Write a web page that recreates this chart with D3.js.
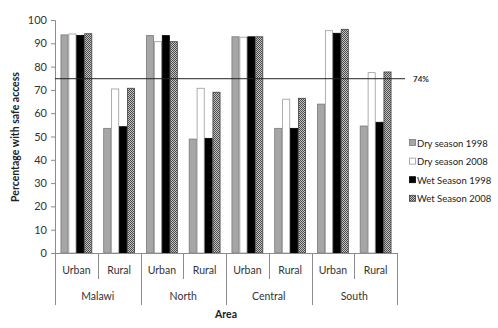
<!DOCTYPE html>
<html><head><meta charset="utf-8">
<script src="https://cdn.jsdelivr.net/npm/d3@7"></script>
<style>body{margin:0;background:#fff}svg{display:block;font-family:Lato,"Open Sans",sans-serif}</style>
</head><body><svg id="c" width="498" height="328"></svg>
<script>
const groups = ["Malawi","North","Central","South"];
const areas = ["Urban","Rural"];
const seriesNames = ["Dry season 1998","Dry season 2008","Wet Season 1998","Wet Season 2008"];
const dry1998 = [93.6, 53.5, 93.3, 48.9, 92.8, 53.5, 63.9, 54.5];
const dry2008 = [94.0, 70.4, 90.7, 70.7, 92.6, 66.0, 95.4, 77.4];
const wet1998 = [93.4, 54.2, 93.3, 49.2, 92.8, 53.5, 94.3, 56.1];
const wet2008 = [94.1, 70.7, 90.7, 69.0, 92.8, 66.4, 96.0, 77.7];
const yTicks = [0,10,20,30,40,50,60,70,80,90,100];
const targetValue = 74.8;
const targetLabel = "74%";

const svg = d3.select("#c");
const defs = svg.append("defs");
const pat = defs.append("pattern").attr("id","chk").attr("width",2).attr("height",2).attr("patternUnits","userSpaceOnUse");
pat.append("rect").attr("width",2).attr("height",2).attr("fill","#c4c4c4");
pat.append("rect").attr("width",1).attr("height",1).attr("fill","#4a4a4a");
pat.append("rect").attr("x",1).attr("y",1).attr("width",1).attr("height",1).attr("fill","#4a4a4a");

const fills = ["#a6a6a6","#ffffff","#000000","url(#chk)"];
const strokes = ["#7a7a7a","#9a9a9a","#000000","#404040"];
const series = [dry1998, dry2008, wet1998, wet2008];

const cats = [];
groups.forEach(g => areas.forEach(a => cats.push(g + "|" + a)));

const L = 55, R = 397, T = 20, B = 253;
const x = d3.scaleBand().domain(cats).range([L, R]).paddingInner(0).paddingOuter(0);
const x1 = d3.scaleBand().domain(d3.range(4)).range([0, x.bandwidth()]).paddingOuter(0.7).paddingInner(0);
const y = d3.scaleLinear().domain([0,100]).range([B, T]);

// bars
series.forEach((vals, si) => {
  svg.append("g").selectAll("rect").data(vals).join("rect")
    .attr("x", (d,i) => x(cats[i]) + x1(si) + 0.4)
    .attr("y", d => y(d))
    .attr("width", x1.bandwidth() - 0.8)
    .attr("height", d => y(0) - y(d))
    .attr("fill", fills[si])
    .attr("stroke", strokes[si])
    .attr("stroke-width", 0.8);
});

// y axis
const yAxis = d3.axisLeft(y).tickValues(yTicks).tickSize(4).tickPadding(4);
const ya = svg.append("g").attr("transform", `translate(${L},0)`).call(yAxis);
ya.select(".domain").attr("stroke","#8c8c8c");
ya.selectAll(".tick line").attr("stroke","#8c8c8c");
ya.selectAll(".tick text").attr("fill","#333").attr("font-size","11px").attr("font-family","Lato,sans-serif");

// x axis baseline
svg.append("line").attr("x1",L).attr("x2",R).attr("y1",B+0.5).attr("y2",B+0.5).attr("stroke","#8c8c8c");

// category separators
const bounds = d3.range(cats.length + 1).map(i => i < cats.length ? x(cats[i]) : R);
bounds.forEach((bx, i) => {
  const long = (i % 2 === 0);
  svg.append("line").attr("x1",Math.round(bx)+0.5).attr("x2",Math.round(bx)+0.5)
    .attr("y1",B).attr("y2", long ? 305 : 279).attr("stroke","#8c8c8c");
});

// area labels
svg.append("g").selectAll("text").data(cats).join("text")
  .attr("x", d => x(d) + x.bandwidth()/2)
  .attr("y", 274)
  .attr("text-anchor","middle")
  .attr("font-size","10.5px").attr("fill","#333")
  .text(d => d.split("|")[1]);

// group labels
svg.append("g").selectAll("text").data(groups).join("text")
  .attr("x", g => x(g + "|Urban") + x.bandwidth())
  .attr("y", 300)
  .attr("text-anchor","middle")
  .attr("font-size","10.5px").attr("fill","#333")
  .text(g => g);

// axis titles
svg.append("text").attr("x", 226).attr("y", 318).attr("text-anchor","middle")
  .attr("font-size","10.5px").attr("font-weight","bold").attr("fill","#222").text("Area");
svg.append("text").attr("transform","translate(19,137) rotate(-90)").attr("text-anchor","middle")
  .attr("font-size","10.5px").attr("font-weight","bold").attr("fill","#222").text("Percentage with safe access");

// target line
svg.append("line").attr("x1",L).attr("x2",405).attr("y1",y(targetValue)).attr("y2",y(targetValue))
  .attr("stroke","#222").attr("stroke-width",1);
svg.append("text").attr("x",413).attr("y",y(targetValue)+3).attr("font-size","8px").attr("font-weight","bold")
  .attr("fill","#333").text(targetLabel);

// legend
const lg = svg.append("g");
seriesNames.forEach((n, i) => {
  const cy = 143 + i * 18.6;
  lg.append("rect").attr("x",409.5).attr("y",cy-3.5).attr("width",6).attr("height",6)
    .attr("fill",fills[i]).attr("stroke",strokes[i]).attr("stroke-width",0.8);
  lg.append("text").attr("x",417).attr("y",cy+3.5).attr("font-size","9.5px").attr("fill","#222").text(n);
});
</script></body></html>
